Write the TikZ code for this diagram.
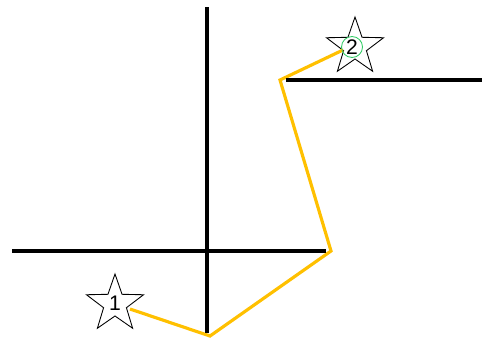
\documentclass[tikz,border=0pt]{standalone}
\usepackage{fontspec}
\setmainfont{Liberation Sans}
\usetikzlibrary{shapes.geometric}
\definecolor{routecol}{HTML}{FFC000}
\definecolor{ring}{HTML}{33CC66}
\begin{document}
\begin{tikzpicture}[
    x=0.02cm, y=-0.02cm,
    wall/.style={line width=2pt},
    route/.style={routecol, line width=1.8pt, line join=miter},
    starmark/.style={star, star points=5, star point ratio=2.5, draw, fill=white,
        line width=0.5pt, minimum size=1.2cm, inner sep=0pt},
    numlabel/.style={font=\fontsize{12}{14}\selectfont, inner sep=0pt}
]
    \useasboundingbox (0,0) rectangle (482,338);

    % markers
    \node[starmark] (s1) at (115,304) {};
    \node[starmark] (s2) at (355,47) {};

    % route
    \coordinate (p0) at (130,309);
    \coordinate (p1) at (210,336);
    \coordinate (p2) at (331,251);
    \coordinate (p3) at (280,80);
    \coordinate (p4) at (343,50);
    \draw[route] (p0) -- (p1) -- (p2) -- (p3) -- (p4);

    % walls
    \coordinate (v1) at (207,7);
    \coordinate (v2) at (207,333);
    \coordinate (h1) at (12,251);
    \coordinate (h2) at (326,251);
    \coordinate (u1) at (286,80);
    \coordinate (u2) at (482,80);
    \draw[wall] (v1) -- (v2);
    \draw[wall] (h1) -- (h2);
    \draw[wall] (u1) -- (u2);

    % labels
    \node[numlabel] (n1) at (115,303) {1};
    \node[draw=ring, circle, line width=0.5pt, minimum size=0.42cm] (c2) at (352,47) {};
    \node[numlabel] (n2) at (c2.center) {2};
\end{tikzpicture}
\end{document}
